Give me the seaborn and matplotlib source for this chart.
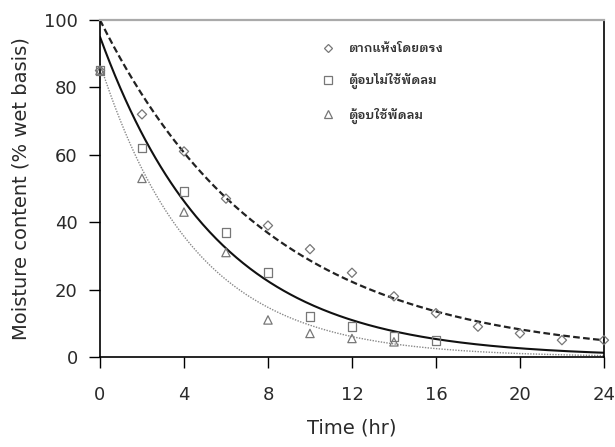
import matplotlib
matplotlib.use("Agg")
import matplotlib.pyplot as plt
import numpy as np
import pandas as pd
import seaborn as sns

# ---- data ----
series_names = ["ตากแห้งโดยตรง", "ตู้อบไม่ใช้พัดลม", "ตู้อบใช้พัดลม"]

t_sun = [0, 2, 4, 6, 8, 10, 12, 14, 16, 18, 20, 22, 24]
m_sun = [85, 72, 61, 47, 39, 32, 25, 18, 13, 9, 7, 5, 5]

t_oven = [0, 2, 4, 6, 8, 10, 12, 14, 16]
m_oven = [85, 62, 49, 37, 25, 12, 9, 6, 5]

t_fan = [0, 2, 4, 6, 8, 10, 12, 14]
m_fan = [85, 53, 43, 31, 11, 7, 5.5, 4.5]

# fitted exponential model parameters (M = a * exp(-k t))
fit_a = [100, 95, 87]
fit_k = [0.125, 0.18, 0.222]

x_ticks = [0, 4, 8, 12, 16, 20, 24]
y_ticks = [0, 20, 40, 60, 80, 100]

sns.set_theme(style="white")
plt.rcParams['font.family'] = ['DejaVu Sans']

fig = plt.figure(figsize=(6.15, 4.47), dpi=100)
ax = fig.add_axes([0.1626, 0.2013, 0.8194, 0.754])

marker_list = ["D", "s", "^"]
marker_sizes = [22, 40, 36]
line_styles = [(0, (3, 1.5)), "-", (0, (1, 1))]
line_colors = ["#222222", "#111111", "#888888"]
line_widths = [1.6, 1.5, 1.0]

# fitted curves
t_fine = np.linspace(0, 24, 300)
for a, k, ls, c, lw in zip(fit_a, fit_k, line_styles, line_colors, line_widths):
    df_fit = pd.DataFrame({"t": t_fine, "m": a * np.exp(-k * t_fine)})
    sns.lineplot(data=df_fit, x="t", y="m", ax=ax, color=c, lw=lw,
                 linestyle=ls, legend=False)

# observed points
handles = []
for name, tt, mm, mk, ms in zip(series_names, [t_sun, t_oven, t_fan],
                                [m_sun, m_oven, m_fan], marker_list, marker_sizes):
    df = pd.DataFrame({"t": tt, "m": mm})
    sns.scatterplot(data=df, x="t", y="m", ax=ax, marker=mk, s=ms,
                    facecolor="none", edgecolor="#777777", linewidth=0.9,
                    legend=False, zorder=5, clip_on=False)
    handles.append(plt.Line2D([], [], linestyle="none", marker=mk,
                              markersize=np.sqrt(ms) * 0.9, markerfacecolor="none",
                              markeredgecolor="#777777", markeredgewidth=0.9, label=name))

ax.set_xlim(0, 24)
ax.set_ylim(0, 100)
ax.set_xticks(x_ticks)
ax.set_yticks(y_ticks)
ax.tick_params(axis="both", direction="out", length=8, width=1.0,
               bottom=True, left=True,
               labelsize=13, color="black", labelcolor="#2a2a2a", pad=13)
ax.tick_params(axis="y", pad=8)
for side in ["left", "bottom", "right"]:
    ax.spines[side].set_color("black")
    ax.spines[side].set_linewidth(1.2)
ax.spines["top"].set_color("#aaaaaa")
ax.spines["top"].set_linewidth(1.6)

ax.set_xlabel("Time (hr)", fontsize=14, color="#2a2a2a", labelpad=10)
ax.set_ylabel("Moisture content (% wet basis)", fontsize=14, color="#2a2a2a", labelpad=10)

leg = ax.legend(handles=handles, loc="upper left", bbox_to_anchor=(0.405, 0.968),
                frameon=False, handletextpad=0.7, labelspacing=1.45,
                prop={"family": ["IBM Plex Sans Thai Looped", "DejaVu Sans"],
                      "size": 9, "weight": "semibold"})
for txt in leg.get_texts():
    txt.set_color("#333333")

fig.savefig("out.png", dpi=100)
